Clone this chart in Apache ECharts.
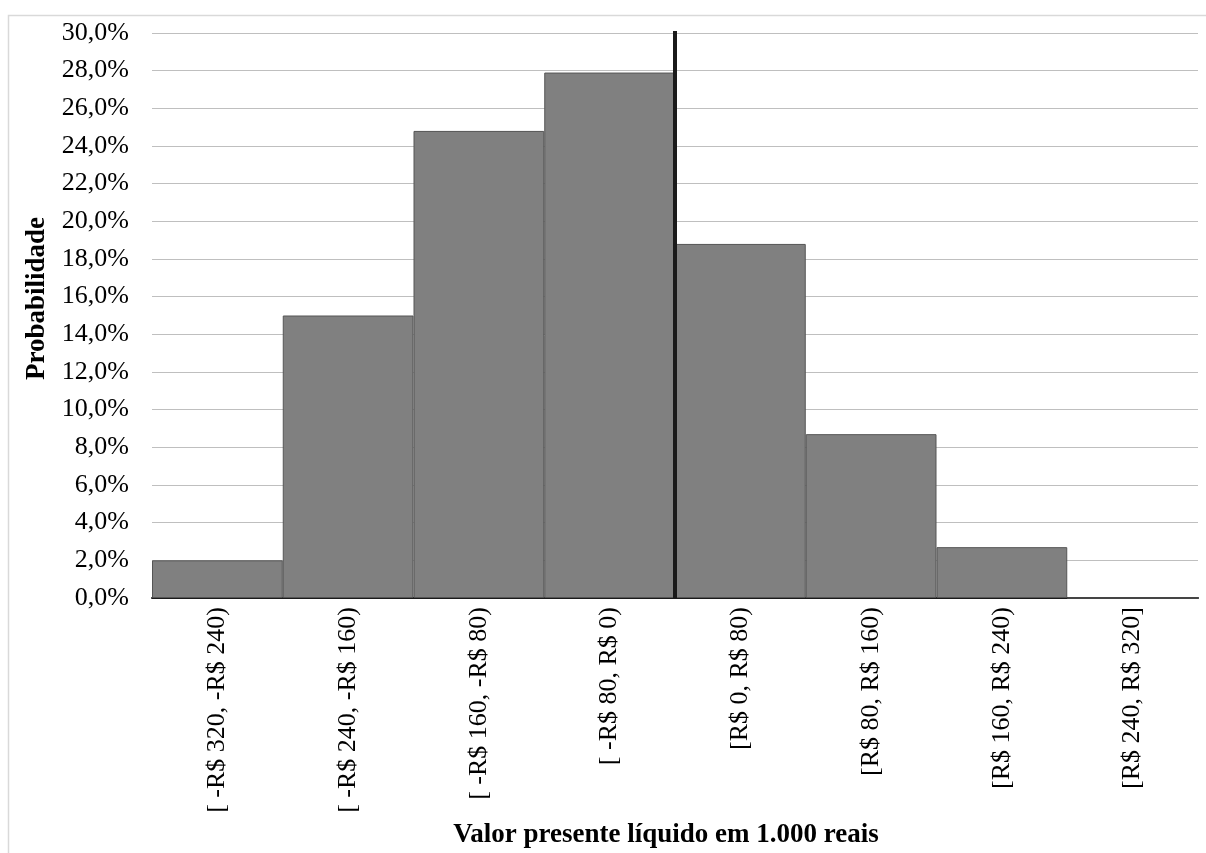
<!DOCTYPE html>
<html>
<head>
<meta charset="utf-8">
<script src="https://cdn.jsdelivr.net/npm/echarts@6/dist/echarts.min.js"></script>
<style>html,body{margin:0;padding:0;background:#fff}#c{width:1206px;height:853px}</style>
</head>
<body>
<div id="c"></div>
<script>
const categories = ["[ -R$ 320, -R$ 240)", "[ -R$ 240, -R$ 160)", "[ -R$ 160, -R$ 80)", "[ -R$ 80, R$ 0)", "[R$ 0, R$ 80)", "[R$ 80, R$ 160)", "[R$ 160, R$ 240)", "[R$ 240, R$ 320]"];
const probabilities = [2.0, 15.0, 24.8, 27.9, 18.8, 8.7, 2.7, 0.0];
const zeroLine = [[0, 0], [0, 30.15]];
const yTitle = "Probabilidade";
const xTitle = "Valor presente líquido em 1.000 reais";

const font = '"Liberation Serif", "Times New Roman", serif';
const chart = echarts.init(document.getElementById('c'), null, {renderer: 'canvas'});
chart.setOption({
  animation: false,
  backgroundColor: '#fff',
  textStyle: {fontFamily: font},
  graphic: [{
    type: 'rect', z: -10, silent: true,
    shape: {x: 8.5, y: 15.5, width: 1300, height: 900},
    style: {fill: 'none', stroke: '#d9d9d9', lineWidth: 1.5}
  }],
  grid: {left: 152, right: 8, top: 33, bottom: 255, containLabel: false, outerBoundsMode: 'none'},
  xAxis: [{
    type: 'category',
    data: categories,
    axisLine: {lineStyle: {color: '#1a1a1a', width: 2}},
    axisTick: {show: false},
    axisLabel: {rotate: 90, fontSize: 26, color: '#000', fontFamily: font, margin: 9, interval: 0},
    name: xTitle,
    nameLocation: 'middle',
    nameGap: 224,
    nameTextStyle: {fontSize: 27, fontWeight: 'bold', color: '#000', fontFamily: font, padding: [0, 18, 0, 0]}
  }, {
    type: 'value', min: -320, max: 320, show: false
  }],
  yAxis: {
    type: 'value', min: 0, max: 30, interval: 2,
    axisLine: {show: false},
    axisTick: {show: false},
    splitLine: {lineStyle: {color: '#bfbfbf', width: 1.2}},
    axisLabel: {
      fontSize: 26, color: '#000', fontFamily: font, margin: 23,
      formatter: v => v.toFixed(1).replace('.', ',') + '%'
    },
    name: yTitle,
    nameLocation: 'middle',
    nameGap: 101,
    nameTextStyle: {fontSize: 27, fontWeight: 'bold', color: '#000', fontFamily: font, padding: [0, 0, 0, 34]}
  },
  series: [{
    type: 'bar',
    data: probabilities,
    barCategoryGap: '0%',
    itemStyle: {color: '#808080', borderColor: '#555555', borderWidth: 1}
  }, {
    type: 'line',
    xAxisIndex: 1,
    data: zeroLine,
    symbol: 'none',
    lineStyle: {color: '#1a1a1a', width: 4},
    z: 5
  }]
});
</script>
</body>
</html>
